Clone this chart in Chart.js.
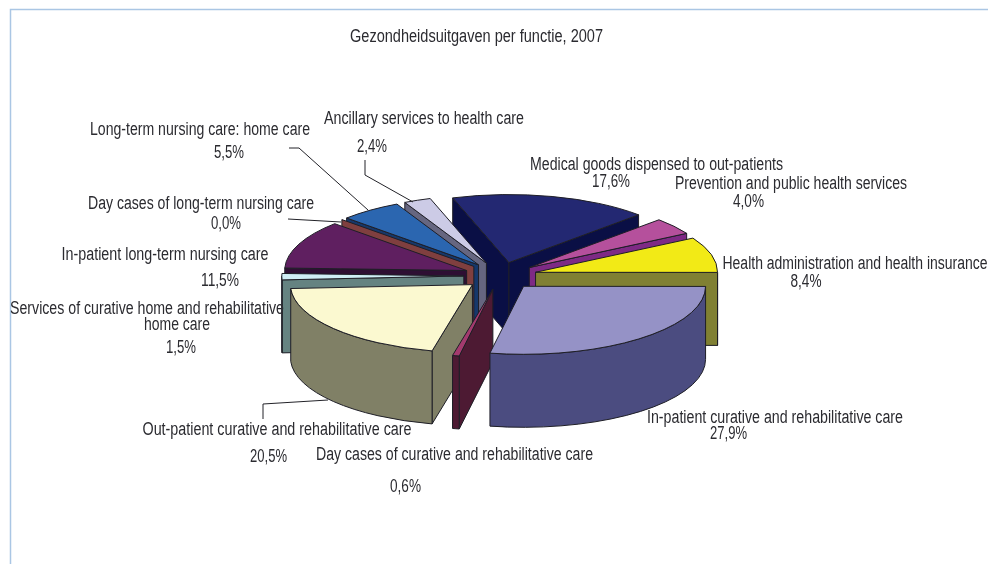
<!DOCTYPE html>
<html>
<head>
<meta charset="utf-8">
<script src="https://cdnjs.cloudflare.com/ajax/libs/Chart.js/4.4.1/chart.umd.min.js"></script>
<style>
  body { margin: 0; background: white; }
  canvas { display: block; }
</style>
</head>
<body>
<canvas id="pieChart" width="988" height="564"></canvas>

<script>
  var chartTitle = "Gezondheidsuitgaven per functie, 2007";

  // clockwise, starting with the navy slice
  var categories = [
    "Medical goods dispensed to out-patients",
    "Prevention and public health services",
    "Health administration and health insurance",
    "In-patient curative and rehabilitative care",
    "Day cases of curative and rehabilitative care",
    "Out-patient curative and rehabilitative care",
    ["Services of curative home and rehabilitative", "home care"],
    "In-patient long-term nursing care",
    "Day cases of long-term nursing care",
    "Long-term nursing care: home care",
    "Ancillary services to health care"
  ];
  var shares = [17.6, 4.0, 8.4, 27.9, 0.6, 20.5, 1.5, 11.5, 0.0, 5.5, 2.4];

  var topColors = ["#232872", "#b5509c", "#f2ea16", "#9592c6", "#a33a6e", "#fbf9d0", "#cfeef5", "#5f1f60", "#a04d4d", "#2b66b0", "#cccbe6"];
  var wallColors = ["#0a0f45", "#7e2a85", "#808033", "#4b4c80", "#4d1a33", "#808066", "#658381", "#2e0f33", "#7f3f3f", "#16386b", "#666680"];

  // the pie is tilted: flat ellipse plus a wall of this height
  var tilt = 68 / 182;
  var wallDepth = 73;
  var paintOrder = [0, 1, 2, 10, 9, 8, 7, 6, 5, 4, 3];

  // label places: [centre x, centre y, width]
  var nameBoxes = [
    [[656.5, 165.5, 253]],
    [[791, 184.5, 232]],
    [[855, 264.5, 265]],
    [[775, 418.5, 256]],
    [[454.5, 455.5, 277]],
    [[277, 430.5, 269]],
    [[147, 309.5, 274], [177, 325.5, 66]],
    [[165, 255.5, 207]],
    [[201, 204.5, 226]],
    [[200, 130.5, 220]],
    [[424, 119.5, 200]]
  ];
  var valueBoxes = [
    [611, 182.5, 38], [748.5, 202.5, 31], [806, 282.5, 31], [728.5, 434.5, 37], [405.5, 487.5, 31], [268.5, 457.5, 37],
    [181, 348.5, 30], [220, 281.5, 38], [226, 224.5, 30], [229, 153.5, 30], [372, 147.5, 30]
  ];
  var leaderLines = [
    [[365, 160], [365, 175], [413, 202]],
    [[289, 148], [299, 148], [368, 210]],
    [[288, 219], [341, 222]],
    [[263, 419], [263, 404], [328, 400]]
  ];

  function drawFittedText(ctx, text, box)
  {
    var natural = ctx.measureText(text).width;
    ctx.save();
    ctx.translate(box[0], box[1]);
    ctx.scale(box[2] / natural, 1);
    ctx.fillText(text, 0, 0);
    ctx.restore();
  }

  function drawWall(ctx, ax, ay, r, angle)
  {
    var rimX = ax + Math.cos(angle) * r;
    var rimY = ay + Math.sin(angle) * r * tilt;
    ctx.beginPath();
    ctx.moveTo(ax, ay);
    ctx.lineTo(rimX, rimY);
    ctx.lineTo(rimX, rimY + wallDepth);
    ctx.lineTo(ax, ay + wallDepth);
    ctx.closePath();
    ctx.fill();
    ctx.stroke();
  }

  function drawRim(ctx, ax, ay, r, from, to)
  {
    ctx.beginPath();
    ctx.ellipse(ax, ay, r, r * tilt, 0, from, to);
    ctx.ellipse(ax, ay + wallDepth, r, r * tilt, 0, to, from, true);
    ctx.closePath();
    ctx.fill();
    ctx.stroke();
  }

  var pie3d = {
    id: "pie3d",
    beforeDatasetsDraw: function(chart)
    {
      var ctx = chart.ctx;
      var arcs = chart.getDatasetMeta(0).data;
      ctx.save();
      ctx.lineWidth = 1;
      ctx.strokeStyle = "#1e1e26";
      ctx.lineJoin = "round";

      paintOrder.forEach(function(i) {
        var arc = arcs[i];
        var start = arc.startAngle;
        var end = arc.endAngle;
        var mid = (start + end) / 2;
        var r = arc.outerRadius;
        var ax = arc.x + Math.cos(mid) * arc.options.offset;
        var ay = arc.y + Math.sin(mid) * arc.options.offset * tilt;

        ctx.fillStyle = wallColors[i];
        if (Math.cos(start) < 0) drawWall(ctx, ax, ay, r, start);
        if (Math.cos(end) > 0) drawWall(ctx, ax, ay, r, end);

        // front part of the curved side, only where the rim faces the viewer
        var tau = Math.PI * 2;
        var from = ((start % tau) + tau) % tau;
        var to = from + (end - start);
        [0, tau].forEach(function(turn) {
          var a = Math.max(from, turn);
          var b = Math.min(to, turn + Math.PI);
          if (b > a) drawRim(ctx, ax, ay, r, a, b);
        });

        if (end > start)
        {
          ctx.fillStyle = arc.options.backgroundColor;
          ctx.beginPath();
          ctx.moveTo(ax, ay);
          ctx.ellipse(ax, ay, r, r * tilt, 0, start, end);
          ctx.closePath();
          ctx.fill();
          ctx.stroke();
        }
      });
      ctx.restore();
      return false;
    },
    afterDraw: function(chart)
    {
      var ctx = chart.ctx;
      ctx.save();

      // frame of the page
      ctx.strokeStyle = "#aac6e4";
      ctx.lineWidth = 1.5;
      ctx.beginPath();
      ctx.moveTo(10.5, 564);
      ctx.lineTo(10.5, 9.5);
      ctx.lineTo(988, 9.5);
      ctx.stroke();

      ctx.strokeStyle = "#222228";
      ctx.lineWidth = 1;
      leaderLines.forEach(function(line) {
        ctx.beginPath();
        line.forEach(function(p, k) {
          if (k == 0) ctx.moveTo(p[0], p[1]);
          else ctx.lineTo(p[0], p[1]);
        });
        ctx.stroke();
      });

      ctx.fillStyle = "#2b2b30";
      ctx.font = "18px 'Liberation Sans Narrow', 'Liberation Sans', sans-serif";
      ctx.textAlign = "center";
      ctx.textBaseline = "middle";
      drawFittedText(ctx, chartTitle, [476.5, 37, 253]);
      categories.forEach(function(name, i) {
        var lines = Array.isArray(name) ? name : [name];
        lines.forEach(function(line, k) {
          drawFittedText(ctx, line, nameBoxes[i][k]);
        });
        drawFittedText(ctx, shares[i].toFixed(1).replace(".", ",") + "%", valueBoxes[i]);
      });
      ctx.restore();
    }
  };

  var pieChart = new Chart(document.getElementById("pieChart"), {
    type: "pie",
    data: {
      labels: categories,
      datasets: [
        {
          data: shares,
          backgroundColor: topColors,
          offset: 36.5
        }
      ]
    },
    options: {
      responsive: false,
      animation: false,
      rotation: -18,
      radius: 182,
      layout: { padding: { left: 12.6, right: 0, top: 0, bottom: 12.4 } },
      plugins: {
        legend: { display: false },
        tooltip: { enabled: false }
      }
    },
    plugins: [pie3d]
  });
</script>
</body>
</html>
